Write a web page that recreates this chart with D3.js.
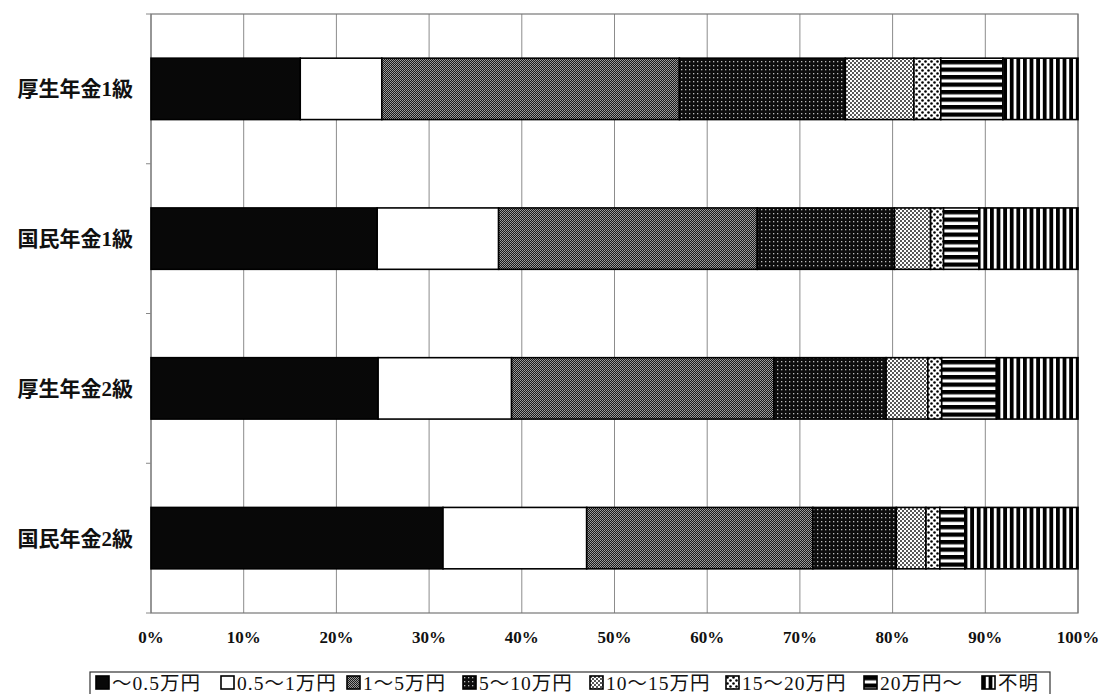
<!DOCTYPE html>
<html><head><meta charset="utf-8">
<script src="https://cdn.jsdelivr.net/npm/d3@7"></script>
<style>body{margin:0;background:#fff}svg{display:block}</style>
</head><body>
<svg id="c" width="1104" height="694"></svg>
<script>
const categories = ["厚生年金1級","国民年金1級","厚生年金2級","国民年金2級"];
const seriesNames = ["～0.5万円","0.5～1万円","1～5万円","5～10万円","10～15万円","15～20万円","20万円～","不明"];
const s0 = [16.1, 24.4, 24.5, 31.5];
const s1 = [8.8, 13.1, 14.4, 15.5];
const s2 = [32.1, 27.9, 28.3, 24.4];
const s3 = [17.9, 14.8, 12.1, 9.0];
const s4 = [7.4, 3.9, 4.5, 3.2];
const s5 = [2.9, 1.4, 1.5, 1.5];
const s6 = [6.7, 3.8, 5.9, 2.7];
const s7 = [8.1, 10.7, 8.8, 12.2];
const seriesValues = [s0,s1,s2,s3,s4,s5,s6,s7];
const xTicks = [0,10,20,30,40,50,60,70,80,90,100];

const svg = d3.select("#c");
const L = 151, R = 1078, T = 14, B = 613;
const x = d3.scaleLinear().domain([0,100]).range([L,R]);
const y = d3.scaleBand().domain(categories).range([T,B]).paddingInner(0.59).paddingOuter(0.295);

// patterns
const defs = svg.append("defs");
function pat(id,w,h,draw){const p=defs.append("pattern").attr("id",id).attr("patternUnits","userSpaceOnUse").attr("width",w).attr("height",h);draw(p);}
pat("p2",2,2,p=>{p.append("rect").attr("width",2).attr("height",2).attr("fill","#1a1a1a");p.append("rect").attr("width",1).attr("height",1).attr("fill","#a0a0a0");p.append("rect").attr("x",1).attr("y",1).attr("width",1).attr("height",1).attr("fill","#909090");});
pat("p3",4,4,p=>{p.append("rect").attr("width",4).attr("height",4).attr("fill","#0d0d0d");p.append("rect").attr("x",1).attr("y",1).attr("width",1.3).attr("height",1.3).attr("fill","#bbb");});
pat("p4",4,4,p=>{p.append("rect").attr("width",4).attr("height",4).attr("fill","#fff");p.append("circle").attr("cx",1).attr("cy",1).attr("r",0.95).attr("fill","#111");p.append("circle").attr("cx",3).attr("cy",3).attr("r",0.95).attr("fill","#111");});
pat("p5",6,6,p=>{p.append("rect").attr("width",6).attr("height",6).attr("fill","#fff");p.append("circle").attr("cx",1.5).attr("cy",1.5).attr("r",1.3).attr("fill","#000");p.append("circle").attr("cx",4.5).attr("cy",4.5).attr("r",1.3).attr("fill","#000");});
pat("p6",7.5,7.5,p=>{p.append("rect").attr("width",7.5).attr("height",7.5).attr("fill","#fff");p.append("rect").attr("width",7.5).attr("height",4.3).attr("fill","#000");});
pat("p7",6.6,6.6,p=>{p.append("rect").attr("width",6.6).attr("height",6.6).attr("fill","#fff");p.append("rect").attr("width",3.8).attr("height",6.6).attr("fill","#000");});
const fills = ["#080808","#ffffff","url(#p2)","url(#p3)","url(#p4)","url(#p5)","url(#p6)","url(#p7)"];

// grid
svg.append("g").selectAll("line").data(xTicks).join("line")
  .attr("x1",d=>x(d)).attr("x2",d=>x(d)).attr("y1",T).attr("y2",B)
  .attr("stroke","#8c8c8c").attr("stroke-width",1);
svg.append("rect").attr("x",L).attr("y",T).attr("width",R-L).attr("height",B-T)
  .attr("fill","none").attr("stroke","#777").attr("stroke-width",1.2);
const bounds = categories.map(c=>y(c)-y.step()*y.paddingInner()/2).concat([B]);
svg.append("g").selectAll("line").data(bounds).join("line")
  .attr("x1",L-5).attr("x2",L).attr("y1",d=>d).attr("y2",d=>d).attr("stroke","#888");

// stacked bars
const rows = categories.map((c,i)=>{const o={cat:c};seriesNames.forEach((s,j)=>o[s]=seriesValues[j][i]);return o;});
const stack = d3.stack().keys(seriesNames)(rows);
svg.append("g").selectAll("g").data(stack).join("g")
  .attr("fill",(d,i)=>fills[i])
  .selectAll("rect").data(d=>d).join("rect")
  .attr("x",d=>x(d[0])).attr("width",d=>x(d[1])-x(d[0]))
  .attr("y",d=>y(d.data.cat)).attr("height",y.bandwidth())
  .attr("stroke","#000").attr("stroke-width",1.6);

// category labels
svg.append("g").selectAll("text").data(categories).join("text")
  .attr("x",133).attr("y",d=>y(d)+y.bandwidth()/2).attr("dy","0.36em")
  .attr("text-anchor","end").attr("font-family","'Liberation Serif','Noto Sans CJK JP'")
  .attr("font-size",21).attr("font-weight","bold").attr("fill","#111").text(d=>d);

// x tick labels
svg.append("g").selectAll("text").data(xTicks).join("text")
  .attr("x",d=>x(d)).attr("y",643).attr("text-anchor","middle")
  .attr("font-family","'Liberation Serif'").attr("font-size",17).attr("font-weight","bold")
  .attr("fill","#111").text(d=>d+"%");

// legend
const legX = [96,221,347,463,590,726,864,982];
svg.append("rect").attr("x",90).attr("y",672).attr("width",960).attr("height",30)
  .attr("fill","none").attr("stroke","#333").attr("stroke-width",1.2);
const lg = svg.append("g").selectAll("g").data(seriesNames).join("g")
  .attr("transform",(d,i)=>`translate(${legX[i]},676)`);
lg.append("rect").attr("x",0).attr("y",0).attr("width",13).attr("height",13)
  .attr("fill",(d,i)=>fills[i]).attr("stroke","#000").attr("stroke-width",1.6);
lg.append("text").attr("x",16).attr("y",14).attr("font-family","'Liberation Serif','Noto Sans CJK JP'")
  .attr("font-size",19.5).attr("letter-spacing","1px").attr("fill","#111").text(d=>d);
</script>
</body></html>
